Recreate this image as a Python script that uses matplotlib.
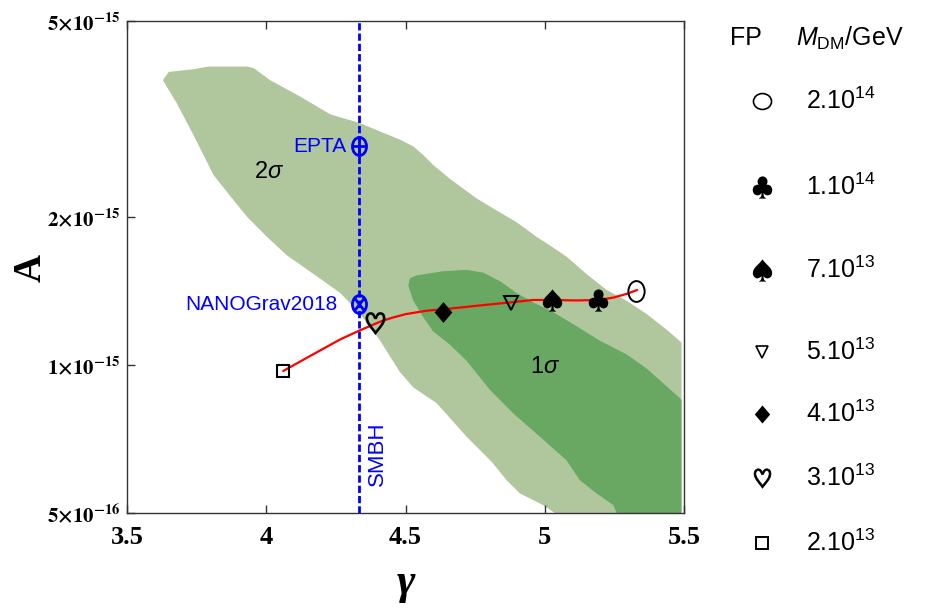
import numpy as np
import matplotlib
matplotlib.use("Agg")
import matplotlib.pyplot as plt
from matplotlib.path import Path
from matplotlib.transforms import Affine2D
from matplotlib.ticker import FixedLocator, FixedFormatter, NullLocator

plt.rcParams["mathtext.fontset"] = "stix"
plt.rcParams["mathtext.rm"] = "Liberation Sans"
plt.rcParams["mathtext.it"] = "Liberation Sans:italic"
plt.rcParams["mathtext.bf"] = "Liberation Sans:bold"
plt.rcParams["mathtext.sf"] = "Liberation Sans"
plt.rcParams["font.family"] = ["Liberation Sans", "DejaVu Sans"]

# ---- data -------------------------------------------------------------
# 2-sigma credible region (gamma, A in units of 1e-15)
sigma2_gamma = [3.629, 3.650, 3.739, 3.793, 3.931, 3.955, 4.014, 4.122, 4.230,
                4.337, 4.409, 4.480, 4.528, 4.564, 4.599, 4.659, 4.755, 4.827,
                4.899, 4.971, 5.018, 5.078, 5.150, 5.222, 5.294, 5.365, 5.437,
                5.491, 5.491, 5.036, 4.994, 4.911, 4.863, 4.810, 4.719, 4.612,
                4.528, 4.480, 4.409, 4.337, 4.266, 4.170, 4.074, 4.003, 3.931,
                3.883, 3.811, 3.739, 3.679]
sigma2_A = [3.79, 3.94, 3.99, 4.04, 4.04, 4.01, 3.79, 3.51, 3.23,
            3.10, 2.98, 2.87, 2.78, 2.67, 2.55, 2.39, 2.18, 2.06,
            1.95, 1.82, 1.75, 1.66, 1.53, 1.42, 1.35, 1.27, 1.18,
            1.11, 0.50, 0.50, 0.519, 0.548, 0.583, 0.635, 0.715, 0.836,
            0.90, 0.967, 1.12, 1.27, 1.40, 1.53, 1.67, 1.82, 2.00,
            2.16, 2.43, 2.93, 3.40]

# 1-sigma credible region
sigma1_gamma = [4.516, 4.540, 4.635, 4.719, 4.779, 4.839, 4.899, 4.958, 5.030,
                5.102, 5.198, 5.294, 5.365, 5.425, 5.479, 5.491, 5.491, 5.258,
                5.246, 5.186, 5.126, 5.078, 4.982, 4.887, 4.803, 4.719, 4.659,
                4.599, 4.564, 4.528, 4.510]
sigma1_A = [1.50, 1.52, 1.55, 1.56, 1.54, 1.48, 1.40, 1.34, 1.28,
            1.21, 1.12, 1.05, 0.984, 0.918, 0.862, 0.849, 0.50, 0.50,
            0.519, 0.548, 0.583, 0.640, 0.715, 0.797, 0.89, 1.02, 1.10,
            1.17, 1.25, 1.35, 1.45]

# model prediction as the DM mass varies
curve_gamma = [4.061, 4.170, 4.266, 4.334, 4.409, 4.450, 4.500, 4.577, 4.635,
               4.779, 4.878, 4.958, 5.027, 5.114, 5.192, 5.246, 5.294, 5.332]
curve_A = [0.972, 1.052, 1.127, 1.174, 1.224, 1.246, 1.268, 1.289, 1.297,
           1.323, 1.340, 1.355, 1.355, 1.352, 1.355, 1.370, 1.394, 1.420]

# benchmark points (ordered from heaviest to lightest DM mass)
bench_mass = [r"2.10$^{14}$", r"1.10$^{14}$", r"7.10$^{13}$", r"5.10$^{13}$",
              r"4.10$^{13}$", r"3.10$^{13}$", r"2.10$^{13}$"]
bench_gamma = [5.329, 5.192, 5.027, 4.878, 4.635, 4.391, 4.061]
bench_A = [1.413, 1.355, 1.355, 1.334, 1.283, 1.215, 0.972]

# PTA best-fit amplitudes at the SMBH-binary slope
smbh_gamma = 4.334
pta_names = ["EPTA", "NANOGrav2018"]
pta_A = [2.78, 1.327]

x_ticks = [3.5, 4.0, 4.5, 5.0, 5.5]
x_ticklabels = ["3.5", "4", "4.5", "5", "5.5"]
y_ticks = [0.5, 1.0, 2.0, 5.0]
y_ticklabels = [r"$\mathbf{5{\times}10^{-16}}$", r"$\mathbf{1{\times}10^{-15}}$",
                r"$\mathbf{2{\times}10^{-15}}$", r"$\mathbf{5{\times}10^{-15}}$"]

scale = 1e-15

# ---- marker shapes ----------------------------------------------------
ellipse = Path.unit_circle().transformed(Affine2D().scale(0.78, 1.0))
round_ellipse = Path.unit_circle().transformed(Affine2D().scale(1.0, 0.88))
diamond = Path([(0, 1), (0.85, 0), (0, -1), (-0.85, 0), (0, 1)], closed=True)
cross_plus = Path([(-0.78, 0), (0.78, 0), (0, -1), (0, 1)],
                  [Path.MOVETO, Path.LINETO, Path.MOVETO, Path.LINETO])
cross_x = Path([(-0.55, -0.71), (0.55, 0.71), (-0.55, 0.71), (0.55, -0.71)],
               [Path.MOVETO, Path.LINETO, Path.MOVETO, Path.LINETO])
oplus = Path.make_compound_path(ellipse, cross_plus)
otimes = Path.make_compound_path(ellipse, cross_x)

bench_style = [
    dict(marker=ellipse, ms=15, mfc="none", mec="k", mew=1.4),
    dict(marker=r"$\clubsuit$", ms=16, mfc="k", mec="k", mew=0),
    dict(marker=r"$\spadesuit$", ms=16, mfc="k", mec="k", mew=0),
    dict(marker="v", ms=10, mfc="none", mec="k", mew=1.4),
    dict(marker=diamond, ms=15, mfc="k", mec="k", mew=0),
    dict(marker=r"$\heartsuit$", ms=16, mfc="k", mec="k", mew=0.4),
    dict(marker="s", ms=8, mfc="none", mec="k", mew=1.5),
]
legend_style = [
    dict(marker=round_ellipse, ms=13, mfc="none", mec="k", mew=1.2),
    dict(marker=r"$\clubsuit$", ms=16, mfc="k", mec="k", mew=0),
    dict(marker=r"$\spadesuit$", ms=16, mfc="k", mec="k", mew=0),
    dict(marker="v", ms=9, mfc="none", mec="k", mew=1.2),
    dict(marker=diamond, ms=13, mfc="k", mec="k", mew=0),
    dict(marker=r"$\heartsuit$", ms=14, mfc="k", mec="k", mew=0.5),
    dict(marker="s", ms=8, mfc="none", mec="k", mew=1.4),
]

# ---- figure -----------------------------------------------------------
fig = plt.figure(figsize=(9.33, 6.09), dpi=100)
ax = fig.add_axes([127 / 933, 96 / 609, 557 / 933, 492 / 609])

light = "#b0c69d"
dark = "#68a862"
ax.fill(sigma2_gamma, np.array(sigma2_A) * scale, color=light, lw=0, zorder=1)
ax.fill(sigma1_gamma, np.array(sigma1_A) * scale, color=dark, lw=0, zorder=2)

ax.axvline(smbh_gamma, color="#0000ff", lw=2.0, ls=(0, (2.6, 1.1)), zorder=3)

ax.plot(curve_gamma, np.array(curve_A) * scale, color="#ff0000", lw=1.6,
        zorder=4, solid_capstyle="round", solid_joinstyle="round")

for g, a, st in zip(bench_gamma, bench_A, bench_style):
    ax.plot([g], [a * scale], ls="none", zorder=5, **st)

for name, a, mk, off in zip(pta_names, pta_A, [oplus, otimes], [-9, -16]):
    ax.plot([smbh_gamma], [a * scale], ls="none", marker=mk, ms=13,
            mfc="none", mec="#0000ff", mew=2.0, zorder=6)
    ax.annotate(name, xy=(smbh_gamma, a * scale), xytext=(off, 0),
                textcoords="offset points", ha="right", va="center",
                color="#0000ff", fontsize=15)

ax.annotate("SMBH", xy=(smbh_gamma, 0.66 * scale), xytext=(13, 0),
            textcoords="offset points", ha="center", va="center",
            rotation=90, color="#0000ff", fontsize=16)

ax.text(4.01, 2.47 * scale, r"2$\sigma$", fontsize=17, ha="center",
        va="center", math_fontfamily="custom", zorder=7)
ax.text(5.0, 0.99 * scale, r"1$\sigma$", fontsize=17, ha="center",
        va="center", math_fontfamily="custom", zorder=7)

ax.set_yscale("log")
ax.set_xlim(3.5, 5.5)
ax.set_ylim(0.5 * scale, 5.0 * scale)

ax.xaxis.set_major_locator(FixedLocator(x_ticks))
ax.xaxis.set_major_formatter(FixedFormatter(x_ticklabels))
ax.yaxis.set_major_locator(FixedLocator(np.array(y_ticks) * scale))
ax.yaxis.set_major_formatter(FixedFormatter(y_ticklabels))
ax.xaxis.set_minor_locator(NullLocator())
ax.yaxis.set_minor_locator(NullLocator())

ax.tick_params(axis="both", which="major", direction="in", length=6,
               width=1, color="#333333", top=True, right=False)
ax.tick_params(axis="x", pad=9)
ax.tick_params(axis="y", pad=5, labelsize=15)
for lab in ax.get_xticklabels():
    lab.set_fontfamily("Liberation Serif")
    lab.set_fontweight("bold")
    lab.set_fontsize(19)

for sp in ax.spines.values():
    sp.set_color("#333333")
    sp.set_linewidth(1.0)

ax.set_xlabel("γ", fontfamily="Liberation Serif", fontstyle="italic",
              fontweight="bold", fontsize=32, va="center")
ax.xaxis.set_label_coords((406 - 127) / 557, (513 - 583) / 492)
ax.set_ylabel("A", fontfamily="Liberation Serif", fontweight="bold",
              fontsize=28, va="center", rotation=90)
ax.yaxis.set_label_coords((31 - 127) / 557, (513 - 268) / 492)

# ---- key for the benchmark points ---------------------------------------
key = fig.add_axes([0, 0, 1, 1], zorder=-1)
key.set_xlim(0, 933)
key.set_ylim(609, 0)
key.axis("off")

key.text(746, 38, "FP", fontsize=18, ha="center", va="center")
key.text(850, 38, r"$M_{\mathrm{DM}}$/GeV", fontsize=18, ha="center",
         va="center", math_fontfamily="custom")
row_y = [101, 187, 270, 352, 414, 478, 543]
for yy, st, lab in zip(row_y, legend_style, bench_mass):
    key.plot([762], [yy], ls="none", **st)
    key.text(806, yy, lab, fontsize=18, ha="left", va="center",
             math_fontfamily="custom")

fig.savefig("out.png", dpi=100)
